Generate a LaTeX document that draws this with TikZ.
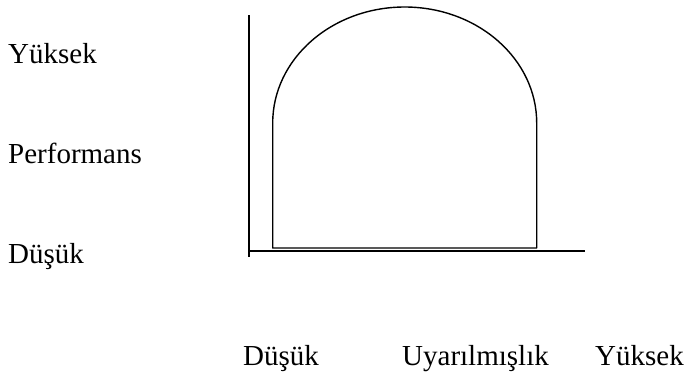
\documentclass[tikz,border=0pt]{standalone}
\usepackage{fontspec}
\setmainfont{Liberation Serif}
\begin{document}
\begin{tikzpicture}[x=1pt,y=-1pt,
  lbl/.style={anchor=base west,inner sep=0pt,font=\fontsize{29}{35}\selectfont},
  ln/.style={line width=1.4pt,black}]
\useasboundingbox (0,0) rectangle (685,376);
% labels
\node[lbl] (yy) at (8,63) {Yüksek};
\node[lbl] (yp) at (8,163) {Performans};
\node[lbl] (yd) at (8,263) {Düşük};
\node[lbl] (xd) at (243,365) {Düşük};
\node[lbl] (xu) at (402,365) {Uyarılmışlık};
\node[lbl] (xy) at (595,365) {Yüksek};
% axes
\coordinate (o) at (249,251);
\coordinate (ytop) at (249,15);
\coordinate (ybot) at (249,257);
\coordinate (xend) at (585,251);
\draw[ln] (ytop) -- (ybot);
\draw[ln] (o) -- (xend);
% curve
\draw[ln,line join=round] (272.7,248) -- (272.7,123)
  arc[start angle=180,end angle=0,x radius=132,y radius=-116]
  -- (536.7,248) -- cycle;
\end{tikzpicture}
\end{document}
